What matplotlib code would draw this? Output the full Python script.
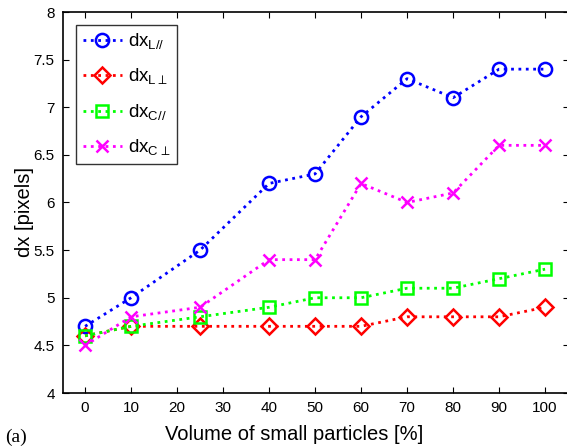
import matplotlib
matplotlib.use("Agg")
import matplotlib.pyplot as plt

# --- Data ---
volume = [0, 10, 25, 40, 50, 60, 70, 80, 90, 100]
dx_L_par = [4.7, 5.0, 5.5, 6.2, 6.3, 6.9, 7.3, 7.1, 7.4, 7.4]
dx_L_perp = [4.6, 4.7, 4.7, 4.7, 4.7, 4.7, 4.8, 4.8, 4.8, 4.9]
dx_C_par = [4.6, 4.7, 4.8, 4.9, 5.0, 5.0, 5.1, 5.1, 5.2, 5.3]
dx_C_perp = [4.5, 4.8, 4.9, 5.4, 5.4, 6.2, 6.0, 6.1, 6.6, 6.6]

x_ticks = [0, 10, 20, 30, 40, 50, 60, 70, 80, 90, 100]
y_ticks = [4, 4.5, 5, 5.5, 6, 6.5, 7, 7.5, 8]

plt.rcParams['font.family'] = ['Liberation Sans', 'DejaVu Sans']
plt.rcParams['mathtext.fontset'] = 'custom'
plt.rcParams['mathtext.rm'] = 'Liberation Sans'

fig = plt.figure(figsize=(5.67, 4.48), dpi=100)
ax = fig.add_axes([63 / 567, 55 / 448, 506 / 567, 381 / 448])

styl = dict(linestyle=':', linewidth=2, markeredgewidth=1.8,
            markerfacecolor='none')
ax.plot(volume, dx_L_par, marker='o', color='#0000ff', markersize=9.5,
        label=r'dx$_\mathregular{L//}$', **styl)
ax.plot(volume, dx_L_perp, marker='D', color='#ff0000', markersize=8.5,
        label=r'dx$_{\mathregular{L}\perp}$', **styl)
ax.plot(volume, dx_C_par, marker='s', color='#00ff00', markersize=9,
        label=r'dx$_\mathregular{C//}$', **styl)
ax.plot(volume, dx_C_perp, marker='x', color='#ff00ff', markersize=8,
        label=r'dx$_{\mathregular{C}\perp}$', **styl)

ax.set_xlim(-4.8, 105.2)
ax.set_ylim(4, 8)
ax.set_xticks(x_ticks)
ax.set_yticks(y_ticks)
ax.set_yticklabels(['4', '4.5', '5', '5.5', '6', '6.5', '7', '7.5', '8'])
ax.tick_params(direction='in', top=True, right=True, labelsize=11, length=4,
               pad=6)
for s in ax.spines.values():
    s.set_linewidth(1.2)

ax.set_xlabel('Volume of small particles [%]', fontsize=14.5)
ax.set_ylabel('dx [pixels]', fontsize=14.5)
ax.xaxis.set_label_coords(0.457, -0.085)
ax.yaxis.set_label_coords(-0.057, 0.475)

leg = ax.legend(loc='upper left', fontsize=13.5, frameon=True, fancybox=False,
                edgecolor='black', handlelength=2.1, borderaxespad=0.7,
                labelspacing=0.8, handletextpad=0.3, borderpad=0.35)
leg.get_frame().set_linewidth(1.0)

fig.text(5 / 567, 1 - 437 / 448, '(a)', family='Liberation Serif',
         fontsize=14, va='center')

fig.savefig('out.png', dpi=100)
